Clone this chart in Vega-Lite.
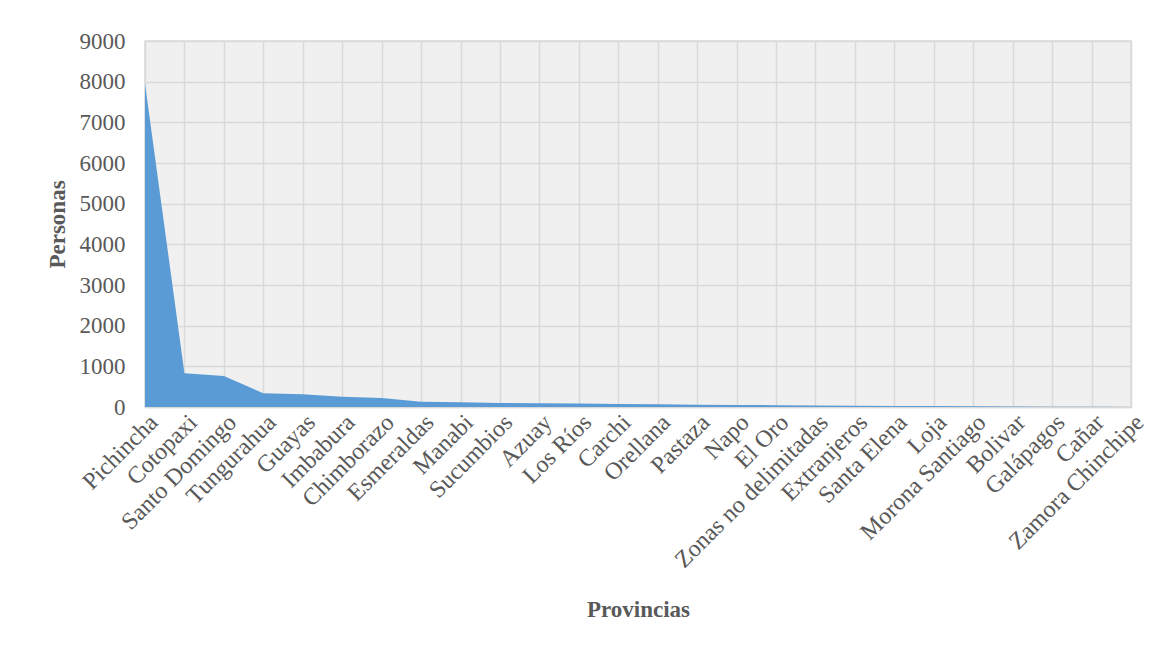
{
  "$schema": "https://vega.github.io/schema/vega-lite/v6.json",
  "autosize": "none",
  "width": 986,
  "height": 366,
  "padding": {"left": 145, "top": 41, "right": 35, "bottom": 241},
  "background": "white",
  "config": {
    "font": "Liberation Serif",
    "view": {"fill": "#f0f0f0", "stroke": "#d9d9d9", "strokeWidth": 1.5}
  },
  "data": {
    "values": [
      {"provincia": "Pichincha", "personas": 7950},
      {"provincia": "Cotopaxi", "personas": 829},
      {"provincia": "Santo Domingo", "personas": 762},
      {"provincia": "Tungurahua", "personas": 337},
      {"provincia": "Guayas", "personas": 312},
      {"provincia": "Imbabura", "personas": 254},
      {"provincia": "Chimborazo", "personas": 221},
      {"provincia": "Esmeraldas", "personas": 131},
      {"provincia": "Manabi", "personas": 115},
      {"provincia": "Sucumbios", "personas": 100},
      {"provincia": "Azuay", "personas": 90},
      {"provincia": "Los Ríos", "personas": 84},
      {"provincia": "Carchi", "personas": 75},
      {"provincia": "Orellana", "personas": 65},
      {"provincia": "Pastaza", "personas": 56},
      {"provincia": "Napo", "personas": 50},
      {"provincia": "El Oro", "personas": 45},
      {"provincia": "Zonas no delimitadas", "personas": 38},
      {"provincia": "Extranjeros", "personas": 30},
      {"provincia": "Santa Elena", "personas": 25},
      {"provincia": "Loja", "personas": 22},
      {"provincia": "Morona Santiago", "personas": 18},
      {"provincia": "Bolivar", "personas": 11},
      {"provincia": "Galápagos", "personas": 8},
      {"provincia": "Cañar", "personas": 5},
      {"provincia": "Zamora Chinchipe", "personas": 3}
    ]
  },
  "mark": {"type": "area", "color": "#5b9bd5", "opacity": 1},
  "encoding": {
    "x": {
      "field": "provincia",
      "type": "ordinal",
      "sort": null,
      "scale": {"type": "point", "padding": 0},
      "axis": {
        "title": "Provincias",
        "titleFont": "Liberation Serif",
        "titleFontSize": 23,
        "titleFontWeight": "bold",
        "titleColor": "#595959",
        "titleBaseline": "middle",
        "titleY": 202,
        "labelAngle": -45,
        "labelAlign": "right",
        "labelBaseline": "top",
        "labelFontSize": 24,
        "labelColor": "#595959",
        "labelPadding": 3,
        "labelLimit": 400,
        "labelOverlap": false,
        "ticks": false,
        "domain": true,
        "domainColor": "#d9d9d9",
        "domainWidth": 1.5,
        "grid": true,
        "gridColor": "#d9d9d9",
        "gridWidth": 1.5
      }
    },
    "y": {
      "field": "personas",
      "type": "quantitative",
      "scale": {"domain": [0, 9000], "nice": false},
      "axis": {
        "title": "Personas",
        "titleFont": "Liberation Serif",
        "titleFontSize": 23,
        "titleFontWeight": "bold",
        "titleColor": "#595959",
        "titleBaseline": "middle",
        "titleX": -88,
        "titleY": 183,
        "values": [0, 1000, 2000, 3000, 4000, 5000, 6000, 7000, 8000, 9000],
        "format": "d",
        "labelFontSize": 23,
        "labelColor": "#595959",
        "labelPadding": 20,
        "ticks": false,
        "domain": false,
        "grid": true,
        "gridColor": "#d9d9d9",
        "gridWidth": 1.5
      }
    }
  }
}
